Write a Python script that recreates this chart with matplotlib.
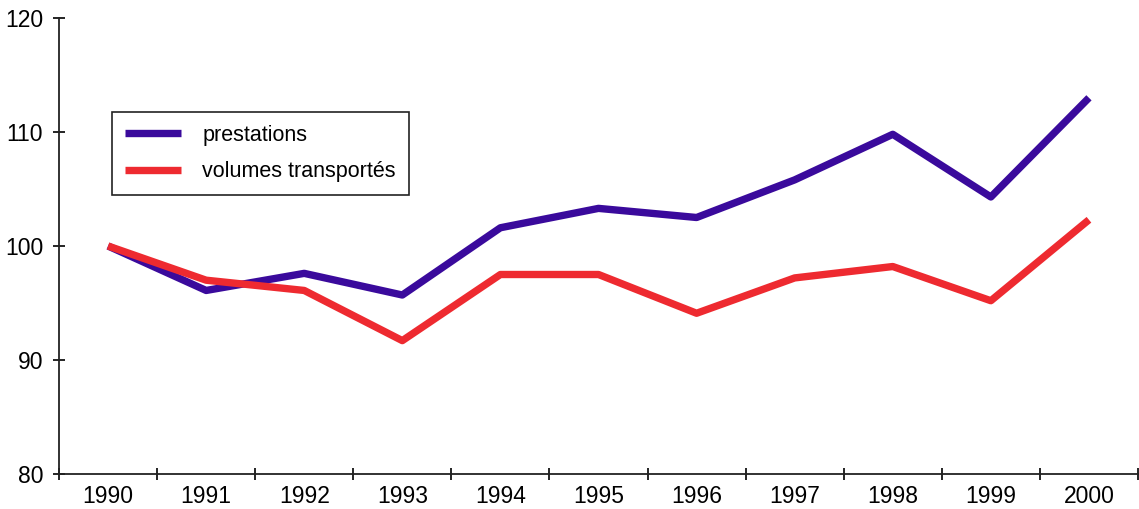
import matplotlib.pyplot as plt

plt.rcParams['font.family'] = ['Liberation Sans', 'DejaVu Sans']

annees = ['1990', '1991', '1992', '1993', '1994', '1995', '1996', '1997', '1998', '1999', '2000']
prestations = [100.0, 96.1, 97.6, 95.7, 101.6, 103.3, 102.5, 105.8, 109.8, 104.3, 113.0]
volumes = [100.0, 97.0, 96.1, 91.7, 97.5, 97.5, 94.1, 97.2, 98.2, 95.2, 102.3]

fig = plt.figure(figsize=(11.39, 5.09), dpi=100)
ax = fig.add_axes([59 / 1139, 35 / 509, 1079 / 1139, 456 / 509])

x = range(len(annees))
ax.plot(x, prestations, color='#3a0a9c', lw=5.3, label='prestations', solid_capstyle='butt')
ax.plot(x, volumes, color='#ee2a30', lw=5.3, label='volumes transportés', solid_capstyle='butt')

ax.set_xlim(-0.5, len(annees) - 0.5)
ax.set_ylim(80, 120)
ax.set_yticks([80, 90, 100, 110, 120])
ax.set_xticks([i + 0.5 for i in range(-1, len(annees))], minor=False)
ax.set_xticklabels([])
ax.set_xticks(list(x), minor=True)
ax.set_xticklabels(annees, minor=True)
ax.tick_params(axis='x', which='minor', length=0, labelsize=16.5, pad=8)
ax.tick_params(axis='x', which='major', direction='inout', length=9, width=1.2)
ax.tick_params(axis='y', direction='inout', length=9, width=1.2, labelsize=16.5, pad=7)

for s in ['top', 'right']:
    ax.spines[s].set_visible(False)
for s in ['left', 'bottom']:
    ax.spines[s].set_linewidth(1.3)
    ax.spines[s].set_color('#222222')

leg = ax.legend(loc='upper left', bbox_to_anchor=(53 / 1079, 362 / 456), borderaxespad=0,
                fancybox=False, edgecolor='#222222', framealpha=1, fontsize=15.5,
                handlelength=2.6, handletextpad=1.0, borderpad=0.6, labelspacing=0.72)
leg.get_frame().set_linewidth(1.2)

fig.savefig('out.png', dpi=100)
